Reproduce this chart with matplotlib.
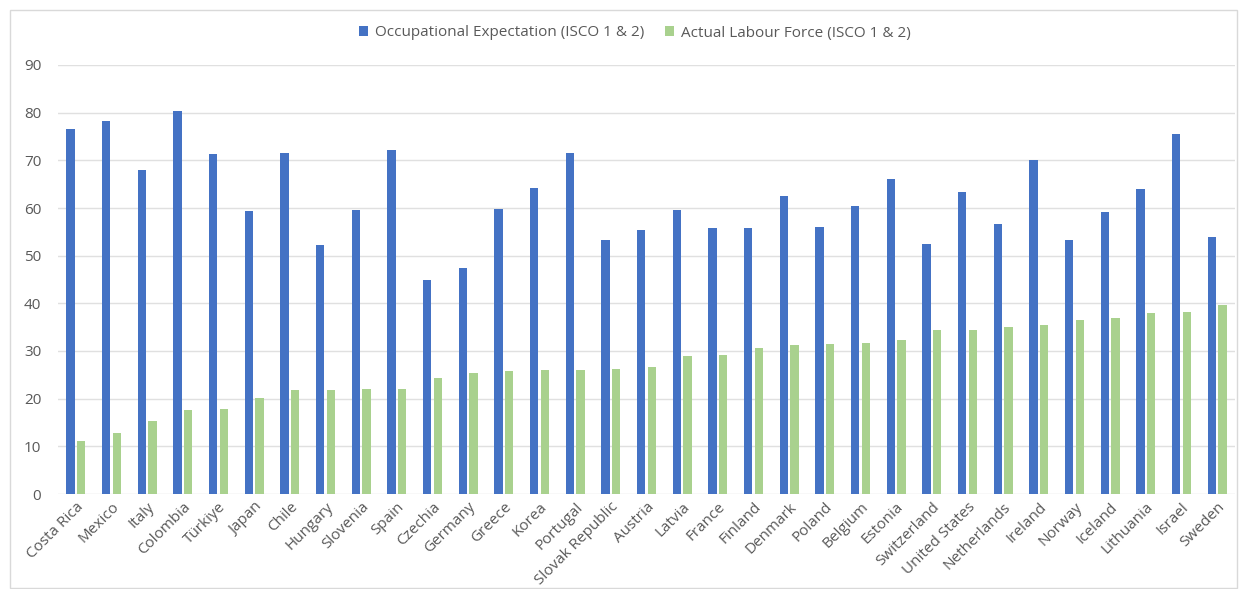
import matplotlib
matplotlib.use("Agg")
import matplotlib.pyplot as plt
import numpy as np
from matplotlib.patches import Rectangle

countries = ["Costa Rica", "Mexico", "Italy", "Colombia", "Türkiye", "Japan", "Chile",
             "Hungary", "Slovenia", "Spain", "Czechia", "Germany", "Greece", "Korea",
             "Portugal", "Slovak Republic", "Austria", "Latvia", "France", "Finland",
             "Denmark", "Poland", "Belgium", "Estonia", "Switzerland", "United States",
             "Netherlands", "Ireland", "Norway", "Iceland", "Lithuania", "Israel", "Sweden"]
expectation = [76.5, 78.3, 68.0, 80.3, 71.3, 59.4, 71.5, 52.3, 59.5, 72.2, 44.9, 47.4,
               59.7, 64.2, 71.6, 53.3, 55.4, 59.5, 55.9, 55.9, 62.6, 56.0, 60.4, 66.0,
               52.4, 63.4, 56.6, 70.1, 53.3, 59.2, 63.9, 75.5, 53.9]
labour_force = [11.1, 12.8, 15.3, 17.6, 17.9, 20.2, 21.8, 21.9, 22.0, 22.0, 24.4, 25.3,
                25.7, 26.0, 26.0, 26.2, 26.6, 29.0, 29.1, 30.6, 31.2, 31.5, 31.6, 32.4,
                34.4, 34.4, 35.1, 35.4, 36.6, 37.0, 37.9, 38.2, 39.7]
yticks = [0, 10, 20, 30, 40, 50, 60, 70, 80, 90]
series_names = ["Occupational Expectation (ISCO 1 & 2)", "Actual Labour Force (ISCO 1 & 2)"]

plt.rcParams['font.family'] = ['Open Sans', 'DejaVu Sans']

fig = plt.figure(figsize=(12.4, 5.89), dpi=100)
fig.patches.append(Rectangle((10/1240, 1-588/589), 1227/1240, 578/589,
                             transform=fig.transFigure, fill=False,
                             edgecolor='#d9d9d9', linewidth=1.0))
ax = fig.add_axes([58/1240, 1-494/589, (1235-58)/1240, (494-65)/589])

x = np.arange(len(countries))
w = 0.23
b1 = ax.bar(x - 0.15, expectation, width=w, color='#4472C4', label=series_names[0], zorder=3)
b2 = ax.bar(x + 0.15, labour_force, width=w, color='#A9D18E', label=series_names[1], zorder=3)

ax.set_xlim(-0.5, len(countries) - 0.5)
ax.set_ylim(0, 90)
ax.set_yticks(yticks)
ax.set_yticklabels([str(t) for t in yticks])
ax.grid(axis='y', color='#e0e0e0', linewidth=1.0, zorder=0)
ax.set_axisbelow(True)
for s in ax.spines.values():
    s.set_visible(False)
ax.tick_params(axis='both', length=0, colors='#595959', labelsize=11)
ax.tick_params(axis='y', pad=12)
ax.set_xticks(x)
ax.set_xticklabels(countries, rotation=45, ha='right', rotation_mode='anchor')
ax.tick_params(axis='x', pad=4)

fig.legend(handles=[b1, b2], labels=series_names, loc='center', ncol=2,
           bbox_to_anchor=(0.512, 1-33/589), frameon=False, fontsize=11,
           handlelength=0.6, handleheight=0.6, handletextpad=0.5, columnspacing=1.3,
           labelcolor='#595959')

fig.savefig("out.png", dpi=100)
